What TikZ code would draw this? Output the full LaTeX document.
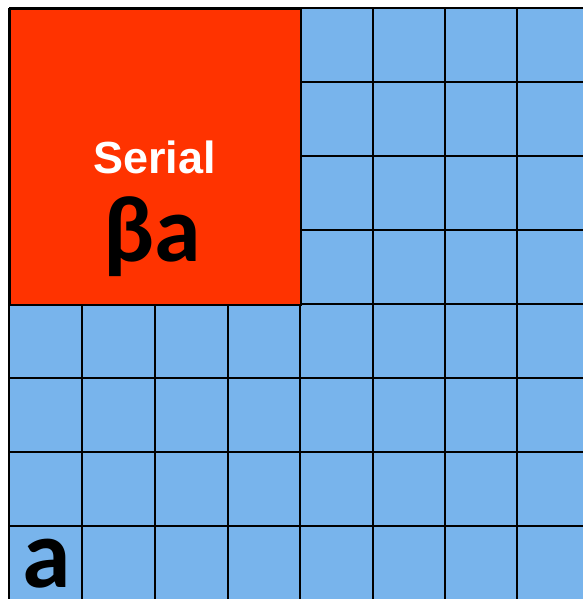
\documentclass[tikz,border=0pt]{standalone}
\usepackage{fontspec}
\newfontfamily\arialb{Liberation Sans}[BoldFont={* Bold}]
\newfontfamily\calib{Carlito}
\definecolor{cellblue}{RGB}{120,180,236}
\definecolor{serialred}{RGB}{255,51,0}
\tikzset{cell/.style={fill=cellblue,draw=black,line width=2pt}}
\begin{document}
\begin{tikzpicture}[x=1pt,y=-1pt]
\useasboundingbox (0,0) rectangle (582,599);
\fill[white] (0,0) rectangle (582,599);
% grid
\fill[cellblue] (9,8) rectangle (590,610);
\foreach \x in {9,82,155,228,300,373,445,517} \draw[line width=2pt] (\x,8) -- (\x,610);
\foreach \y in {8,82,156,230,304,378,452,526} \draw[line width=2pt] (9,\y) -- (590,\y);
% red block
\node[draw=black,fill=serialred,line width=2pt,minimum width=291pt,minimum height=296pt,inner sep=0,anchor=north west] (serial) at (9,8) {};
\node[anchor=base,text=white,inner sep=0] (lbl) at (154.5,173) {\fontsize{45}{45}\selectfont\arialb\bfseries Serial};
\node[anchor=base,text=black,inner sep=0] (ba) at (152,261) {\fontsize{94}{94}\selectfont\calib\bfseries βa};
\node[anchor=base,text=black,inner sep=0,text depth=0pt] (a) at (47,587) {\fontsize{98}{98}\selectfont\calib\bfseries a};
\end{tikzpicture}
\end{document}
